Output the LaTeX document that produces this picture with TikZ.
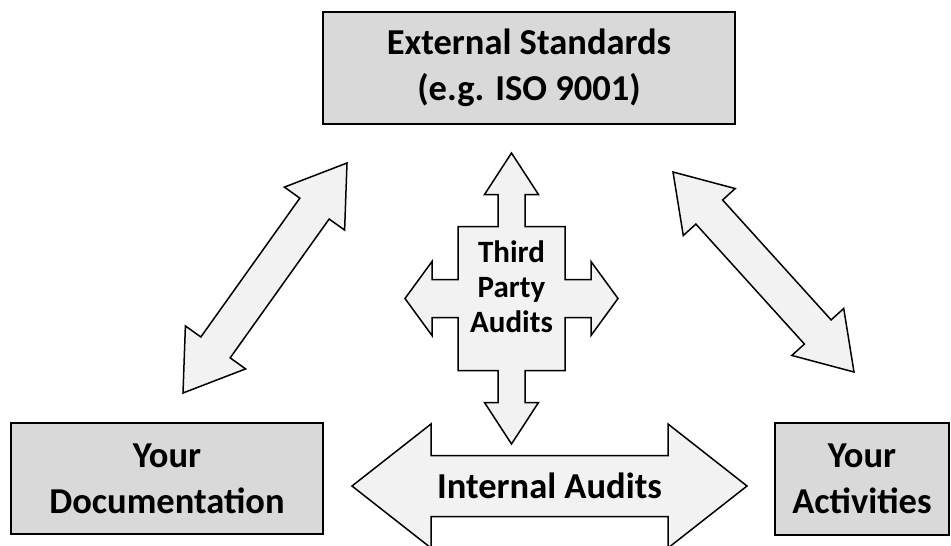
\documentclass[tikz,border=0pt]{standalone}
\usepackage{fontspec}
\setmainfont{Carlito}
\usetikzlibrary{calc}
\definecolor{boxgray}{HTML}{D9D9D9}
\definecolor{arrowgray}{HTML}{F2F2F2}
\tikzset{
  box/.style={draw=black, line width=2pt, fill=boxgray, inner sep=0pt,
    align=center, font=\bfseries\fontsize{36.5}{46}\selectfont},
  blockarrow/.style={draw=black, line width=1.5pt, fill=arrowgray, line join=miter},
  arrowtext/.style={align=center, inner sep=0pt, font=\bfseries\fontsize{36.5}{46}\selectfont},
}
% double-headed block arrow from #1 to #2:
% shaft half-width #3, head half-width #4, head length #5
\newcommand\dblarrow[5]{%
  \path ($(#1)!#5!(#2)$) coordinate (p1) ($(#2)!#5!(#1)$) coordinate (p2);
  \filldraw[blockarrow] (#1) -- ($(p1)!#4!90:(#2)$) -- ($(p1)!#3!90:(#2)$)
    -- ($(p2)!#3!-90:(#1)$) -- ($(p2)!#4!-90:(#1)$) -- (#2)
    -- ($(p2)!#4!90:(#1)$) -- ($(p2)!#3!90:(#1)$)
    -- ($(p1)!#3!-90:(#2)$) -- ($(p1)!#4!-90:(#2)$) -- cycle;}
\begin{document}
\begin{tikzpicture}[x=1pt,y=-1pt]
\useasboundingbox (0,0) rectangle (951,546);

% the three boxes
\node[box, minimum width=412pt, minimum height=112pt] (std) at (529,68)
  {External Standards\\(e.g. ISO 9001)};
\node[box, minimum width=312pt, minimum height=111pt] (doc) at (167,478.5)
  {Your\\Documentation};
\node[box, minimum width=174pt, minimum height=112pt] (act) at (862,479)
  {Your\\Activities};

% diagonal links between the boxes
\coordinate (docTip) at (183,393);
\coordinate (stdTipL) at (347,163);
\coordinate (stdTipR) at (673,172);
\coordinate (actTip) at (854,372);
\dblarrow{docTip}{stdTipL}{18pt}{37pt}{56pt}
\dblarrow{stdTipR}{actTip}{18pt}{35pt}{54pt}

% internal audits arrow
\coordinate (intL) at (352,486);
\coordinate (intR) at (747,486);
\dblarrow{intL}{intR}{30.5pt}{62pt}{79pt}
\node[arrowtext] (int) at (549.5,486) {Internal Audits};

% third party audits four-way arrow
\begin{scope}[shift={(511.5,298.5)}]
\filldraw[blockarrow]
  (0,-145.5) -- (27,-104) -- (13.5,-104) -- (13.5,-72) -- (53.5,-72)
  -- (53.5,-19) -- (79.5,-19) -- (79.5,-37) -- (106.5,0) -- (79.5,37)
  -- (79.5,19) -- (53.5,19) -- (53.5,72) -- (13.5,72) -- (13.5,104)
  -- (27,104) -- (0,145.5) -- (-27,104) -- (-13.5,104) -- (-13.5,72)
  -- (-53.5,72) -- (-53.5,19) -- (-79.5,19) -- (-79.5,37) -- (-106.5,0)
  -- (-79.5,-37) -- (-79.5,-19) -- (-53.5,-19) -- (-53.5,-72)
  -- (-13.5,-72) -- (-13.5,-104) -- (-27,-104) -- cycle;
\node[arrowtext, font=\bfseries\fontsize{31}{35}\selectfont] (tpa) at (0,-12)
  {Third\\Party\\Audits};
\end{scope}
\end{tikzpicture}
\end{document}
